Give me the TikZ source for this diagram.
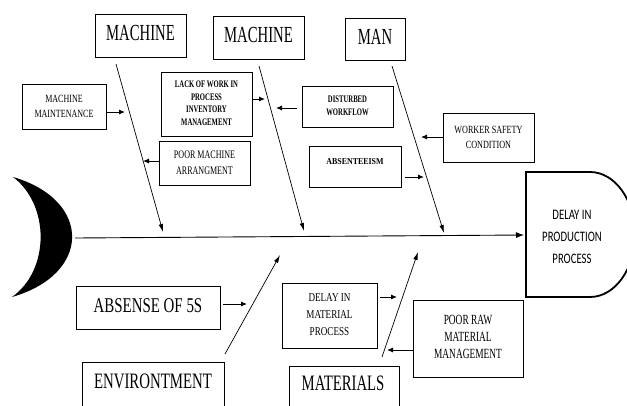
\documentclass[tikz,border=0pt]{standalone}
\usepackage{fontspec}
\setmainfont{Liberation Serif}
\newfontfamily\calib{Carlito}
\usetikzlibrary{arrows.meta}
\newcommand\tx[4]{\scalebox{#1}[1]{\fontsize{#2}{#3}\selectfont\begin{tabular}{@{}c@{}}#4\end{tabular}}}
\begin{document}
\begin{tikzpicture}[x=1pt,y=-1pt,
  box/.style={draw,line width=0.9pt,inner sep=0pt,minimum width=#1},
  br/.style={line width=0.7pt,-{Latex[length=8pt,width=4.5pt]}},
  sa/.style={line width=0.9pt,-{Latex[length=6pt,width=5pt]}},
  txt/.style={inner sep=0pt}]
\useasboundingbox (0,0) rectangle (627,405);
% crescent head
\fill (13,177) .. controls (92,200) and (92,274) .. (12,297) .. controls (50,270) and (50,205) .. (13,177) -- cycle;
% effect
\draw[line width=1.8pt] (526,172) -- (590,172) arc[start angle=90,end angle=-90,x radius=45pt,y radius=62.5pt] -- (526,297) -- cycle;
\node[txt] (eff) at (572,237) {\calib\tx{0.74}{14.5}{22}{DELAY IN\\PRODUCTION\\PROCESS}};
% spine
\coordinate (sp0) at (75,238);
\coordinate (sp1) at (524,235);
\draw[line width=0.9pt,-{Latex[length=8pt,width=6pt]}] (sp0) -- (sp1);
% category boxes
\node[box=91pt,minimum height=43pt] (m1) at (140.5,35.5) {\tx{0.64}{23}{27}{MACHINE}};
\node[box=91pt,minimum height=43pt] (m2) at (258.5,37.5) {\tx{0.64}{23}{27}{MACHINE}};
\node[box=60pt,minimum height=42pt] (man) at (375,39) {\tx{0.64}{23}{27}{MAN}};
\node[box=144pt,minimum height=43pt] (a5s) at (148,307.5) {\tx{0.71}{21}{25}{ABSENSE OF 5S}};
\node[box=142pt,minimum height=62pt] (envb) at (153,393) {};
\node[txt] (envt) at (153,383) {\tx{0.675}{22}{26}{ENVIRONTMENT}};
\node[box=110pt,minimum height=62pt] (matb) at (344,397) {};
\node[txt] (matt) at (343,385) {\tx{0.67}{22}{26}{MATERIALS}};
% cause boxes
\node[box=84pt,minimum height=45pt] (mm) at (64,106.5) {\tx{0.73}{11}{15}{MACHINE\\MAINTENANCE}};
\node[box=91pt,minimum height=64pt] (lack) at (206.5,104) {\bfseries\tx{0.67}{10}{12.4}{LACK OF WORK IN\\PROCESS\\INVENTORY\\MANAGEMENT}};
\node[box=91pt,minimum height=44pt] (pma) at (204.5,163) {\tx{0.70}{11.5}{16}{POOR MACHINE\\ARRANGMENT}};
\node[box=91pt,minimum height=41pt] (dw) at (347.5,106.5) {\bfseries\tx{0.67}{10}{12.3}{DISTURBED\\WORKFLOW}};
\node[box=91pt,minimum height=49pt] (ws) at (488.5,137.5) {\tx{0.74}{11}{15}{WORKER SAFETY\\CONDITION}};
\node[box=92pt,minimum height=41pt] (abs) at (355,166.5) {};
\node[txt] (abst) at (355,162) {\bfseries\tx{0.88}{9}{12}{ABSENTEEISM}};
\node[box=95pt,minimum height=65pt] (dmp) at (329.5,315.5) {\tx{0.76}{12}{17}{DELAY IN\\MATERIAL\\PROCESS}};
\node[box=110pt,minimum height=77pt] (prm) at (468,338.5) {\tx{0.67}{14}{17}{POOR RAW\\MATERIAL\\MANAGEMENT}};
% branch lines
\coordinate (b1s) at (116,64);  \coordinate (b1e) at (163,232);
\coordinate (b2s) at (259,66);  \coordinate (b2e) at (304,231);
\coordinate (b3s) at (392,66);  \coordinate (b3e) at (444,233);
\coordinate (b4s) at (225,354); \coordinate (b4e) at (280,255);
\coordinate (b5s) at (382,357); \coordinate (b5e) at (418,252);
\draw[br] (b1s) -- (b1e);
\draw[br] (b2s) -- (b2e);
\draw[br] (b3s) -- (b3e);
\draw[br] (b4s) -- (b4e);
\draw[br] (b5s) -- (b5e);
% small arrows
\coordinate (c1) at (125,112);
\coordinate (c2) at (265,99);
\coordinate (c3) at (276,108);
\coordinate (c4) at (143,161);
\coordinate (c5) at (421,137);
\coordinate (c6) at (424,177);
\coordinate (c7) at (247,304);
\coordinate (c8) at (397,297);
\coordinate (c9) at (387,350);
\draw[sa,shorten <=1pt] (mm.east |- c1) -- (c1);
\draw[sa,shorten <=1pt] (lack.east |- c2) -- (c2);
\draw[sa,shorten <=5pt] (dw.west |- c3) -- (c3);
\draw[sa] (pma.west |- c4) -- (c4);
\draw[sa] (ws.west |- c5) -- (c5);
\draw[sa,shorten <=4pt] (abs.east |- c6) -- (c6);
\draw[sa,shorten <=3pt] (a5s.east |- c7) -- (c7);
\draw[sa,shorten <=3pt] (dmp.east |- c8) -- (c8);
\draw[sa] (prm.west |- c9) -- (c9);
\end{tikzpicture}
\end{document}
